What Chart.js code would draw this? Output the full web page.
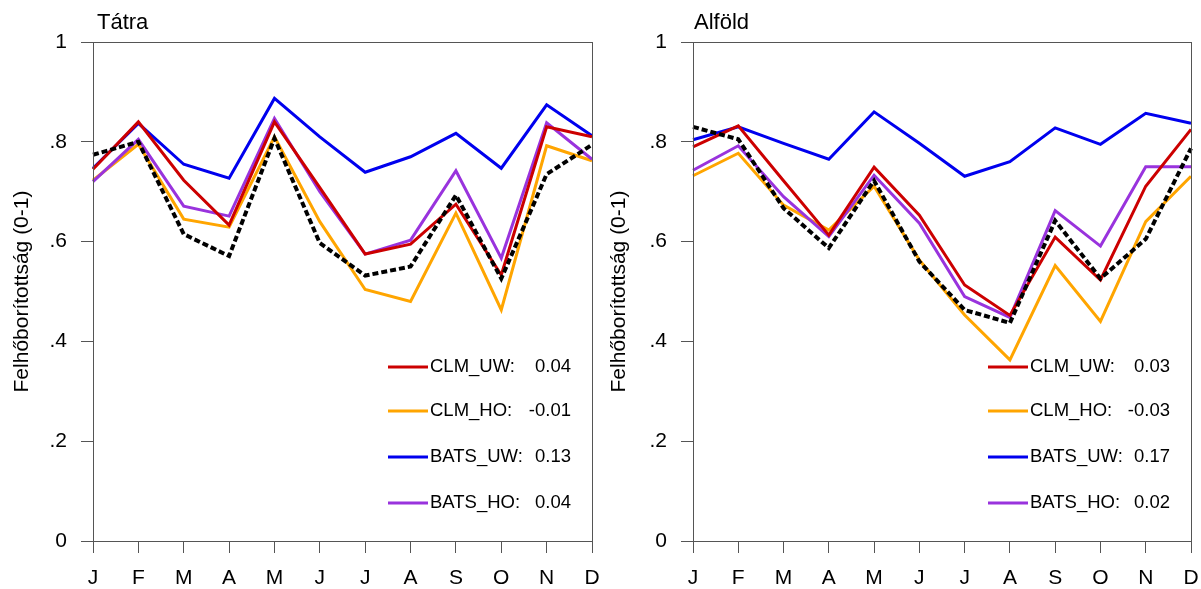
<!DOCTYPE html>
<html>
<head>
<meta charset="utf-8">
<script src="https://cdn.jsdelivr.net/npm/chart.js@4"></script>
<style>
body { margin: 0; background: #fff; }
.panel { position: absolute; top: 0; height: 589px; }
</style>
</head>
<body>
<div class="panel" style="left:0;width:600px"><canvas id="tatra"></canvas></div>
<div class="panel" style="left:600px;width:601px"><canvas id="alfold"></canvas></div>
<script>
const months = ['J', 'F', 'M', 'A', 'M', 'J', 'J', 'A', 'S', 'O', 'N', 'D'];
const yTickLabels = ['0', '.2', '.4', '.6', '.8', '1'];
const seriesNames = ['CLM_UW:', 'CLM_HO:', 'BATS_UW:', 'BATS_HO:'];

// Tátra
const tatraClmUw  = [0.745, 0.840, 0.723, 0.633, 0.840, 0.708, 0.575, 0.595, 0.675, 0.533, 0.830, 0.810];
const tatraClmHo  = [0.723, 0.795, 0.645, 0.629, 0.810, 0.640, 0.504, 0.480, 0.657, 0.463, 0.792, 0.762];
const tatraBatsUw = [0.747, 0.837, 0.755, 0.727, 0.887, 0.810, 0.739, 0.770, 0.817, 0.747, 0.874, 0.812];
const tatraBatsHo = [0.720, 0.805, 0.671, 0.651, 0.847, 0.700, 0.575, 0.603, 0.742, 0.567, 0.838, 0.765];
const tatraObs    = [0.774, 0.800, 0.615, 0.571, 0.807, 0.597, 0.532, 0.550, 0.693, 0.526, 0.735, 0.794];
const tatraScores = ['0.04', '-0.01', '0.13', '0.04'];

// Alföld
const alfoldClmUw  = [0.790, 0.832, 0.722, 0.613, 0.749, 0.653, 0.513, 0.452, 0.609, 0.523, 0.711, 0.825];
const alfoldClmHo  = [0.732, 0.777, 0.673, 0.623, 0.711, 0.563, 0.453, 0.363, 0.552, 0.440, 0.640, 0.731];
const alfoldBatsUw = [0.804, 0.830, 0.797, 0.765, 0.860, 0.797, 0.731, 0.760, 0.828, 0.795, 0.857, 0.837];
const alfoldBatsHo = [0.743, 0.792, 0.690, 0.610, 0.733, 0.637, 0.490, 0.448, 0.662, 0.591, 0.750, 0.750];
const alfoldObs    = [0.830, 0.805, 0.667, 0.587, 0.722, 0.560, 0.463, 0.437, 0.642, 0.526, 0.605, 0.787];
const alfoldScores = ['0.03', '-0.03', '0.17', '0.02'];

const FONT = '"Liberation Sans", Arial, Helvetica, sans-serif';
const colors = ['#cc0000', '#ffa500', '#0000ee', '#9933dd'];

// box around plot area, panel title and the inline legend
const framePlugin = {
  id: 'frame',
  afterDraw(chart, args, opts) {
    const ctx = chart.ctx, a = chart.chartArea;
    ctx.save();
    ctx.strokeStyle = '#555';
    ctx.lineWidth = 1;
    ctx.strokeRect(Math.round(a.left) + 0.5, Math.round(a.top) + 0.5, Math.round(a.width), Math.round(a.height));

    ctx.fillStyle = '#000';
    ctx.textBaseline = 'middle';
    ctx.font = '22px ' + FONT;
    ctx.fillText(opts.title, a.left + opts.titleShift, 23);

    ctx.font = '18.5px ' + FONT;
    const rows = [367, 411, 457, 503];
    seriesNames.forEach((name, i) => {
      const y = rows[i];
      ctx.strokeStyle = colors[i];
      ctx.lineWidth = 3;
      ctx.beginPath();
      ctx.moveTo(a.left + 295, y);
      ctx.lineTo(a.left + 335, y);
      ctx.stroke();
      ctx.textAlign = 'left';
      ctx.fillText(name, a.left + 337, y);
      ctx.textAlign = 'right';
      ctx.fillText(opts.scores[i], a.right - 21, y);
    });
    ctx.restore();
  }
};

function makeChart(id, title, uw, ho, buw, bho, obs, scores, titlePad, rightPad, titleShift) {
  const line = (label, data, color, order) => ({
    label: label, data: data, borderColor: color, borderWidth: 3,
    pointRadius: 0, tension: 0, fill: false, order: order
  });
  return new Chart(document.getElementById(id), {
    type: 'line',
    data: {
      labels: months,
      datasets: [
        line('CLM_UW', uw, colors[0], 1),
        line('CLM_HO', ho, colors[1], 4),
        line('BATS_UW', buw, colors[2], 3),
        line('BATS_HO', bho, colors[3], 2),
        {
          label: 'OBS', data: obs, borderColor: '#000', borderWidth: 4,
          borderDash: [6, 3], pointRadius: 0, tension: 0, fill: false, order: 0
        }
      ]
    },
    options: {
      responsive: true,
      maintainAspectRatio: false,
      animation: false,
      layout: { padding: { top: 42, right: rightPad, bottom: 0, left: 0 } },
      plugins: {
        legend: { display: false },
        tooltip: { enabled: false },
        frame: { title: title, scores: scores, titleShift: titleShift }
      },
      scales: {
        x: {
          offset: false,
          grid: { drawOnChartArea: false, tickLength: 12, color: '#555' },
          border: { color: '#555' },
          ticks: { color: '#000', padding: 13, font: { family: FONT, size: 21 }, maxRotation: 0, autoSkip: false },
          afterFit: s => { s.height = 48; s.paddingLeft = 0; s.paddingRight = 0; }
        },
        y: {
          min: 0, max: 1,
          grid: { drawOnChartArea: false, tickLength: 12, color: '#555' },
          border: { color: '#555' },
          ticks: {
            stepSize: 0.2, color: '#000', padding: 14,
            font: { family: FONT, size: 21 },
            callback: (v) => yTickLabels[Math.round(v * 5)]
          },
          title: {
            display: true, text: 'Felhőborítottság (0-1)', color: '#000',
            font: { family: FONT, size: 21 }, padding: { top: titlePad, bottom: 0 }
          },
          afterFit: s => { s.width = 93; s.paddingTop = 0; s.paddingBottom = 0; }
        }
      }
    },
    plugins: [framePlugin]
  });
}

makeChart('tatra', 'Tátra', tatraClmUw, tatraClmHo, tatraBatsUw, tatraBatsHo, tatraObs, tatraScores, 10, 8, 4);
makeChart('alfold', 'Alföld', alfoldClmUw, alfoldClmHo, alfoldBatsUw, alfoldBatsHo, alfoldObs, alfoldScores, 7, 10, 1);
</script>
</body>
</html>
